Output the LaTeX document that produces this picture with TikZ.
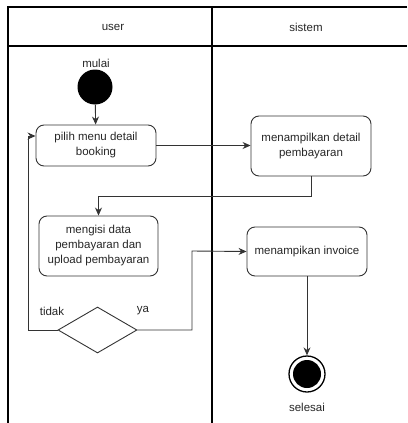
\documentclass[tikz,border=0pt]{standalone}
\usepackage{fontspec}
\setmainfont{Liberation Sans}
\usetikzlibrary{arrows.meta,shapes.geometric}
\begin{document}
\begin{tikzpicture}[x=1pt,y=-1pt,
  font=\fontsize{11.5}{15}\selectfont,
  lane/.style={draw=black,line width=1.2pt},
  act/.style={draw=black!80,line width=0.9pt,rounded corners=8pt,align=center,inner sep=0pt},
  flow/.style={draw=black!80,line width=0.9pt,-{Stealth[length=8pt,width=7pt]}},
  plain/.style={draw=black!80,line width=0.9pt},
  lbl/.style={text=black!85,inner sep=0pt}]
\useasboundingbox (0,0) rectangle (407,423);
% swimlanes
\draw[lane] (407,7) -- (8,7) -- (8,423);
\draw[lane] (8,46) -- (407,46);
\draw[lane] (212,7) -- (212,423);
\node[lbl] (huser) at (113,27) {user};
\node[lbl] (hsis) at (306,27) {sistem};
% nodes
\node[lbl] (mulai) at (96,63) {mulai};
\node[circle,fill=black,minimum size=35pt,inner sep=0pt] (start) at (95,87) {};
\node[act,minimum width=120pt,minimum height=41pt,text=black!85] (pilih) at (96,145.5) {pilih menu detail\\booking};
\node[act,minimum width=120pt,minimum height=60pt,text=black!85] (tampil) at (311,146) {menampilkan detail\\pembayaran};
\node[act,minimum width=119pt,minimum height=60pt,text=black!85] (isi) at (98.5,246) {mengisi data\\pembayaran dan\\upload pembayaran};
\node[act,minimum width=120pt,minimum height=49pt,text=black!85] (inv) at (307,251.5) {menampikan invoice};
\node[diamond,draw=black!80,line width=0.9pt,minimum width=79pt,minimum height=46pt,inner sep=0pt,aspect=1.7] (dec) at (97.5,330) {};
\node[lbl] (tidak) at (52,311) {tidak};
\node[lbl] (ya) at (143,311) {ya};
\node[circle,draw=black,line width=1.3pt,minimum size=36pt,inner sep=0pt] (endo) at (307,374) {};
\node[circle,fill=black,minimum size=28pt,inner sep=0pt] (endi) at (307,374) {};
\node[lbl] (selesai) at (307,407) {selesai};
% connectors
\coordinate (l1) at (28,330);
\coordinate (l2) at (28,136);
\coordinate (r1) at (192,330);
\coordinate (r2) at (192,251);
\draw[flow] (start) -- (pilih);
\draw[flow] (pilih.east) -- (tampil.west |- pilih.east);
\draw[flow] (tampil.south) -- ++(0,20) -| (isi.north);
\draw[flow] (dec.west) -- (l1) -- (l2) -- (pilih.west |- l2);
\draw[flow] (dec.east) -- (r1) -- (r2) -- (inv.west);
\draw[flow] (inv.south) -- (endo.north);
\end{tikzpicture}
\end{document}
